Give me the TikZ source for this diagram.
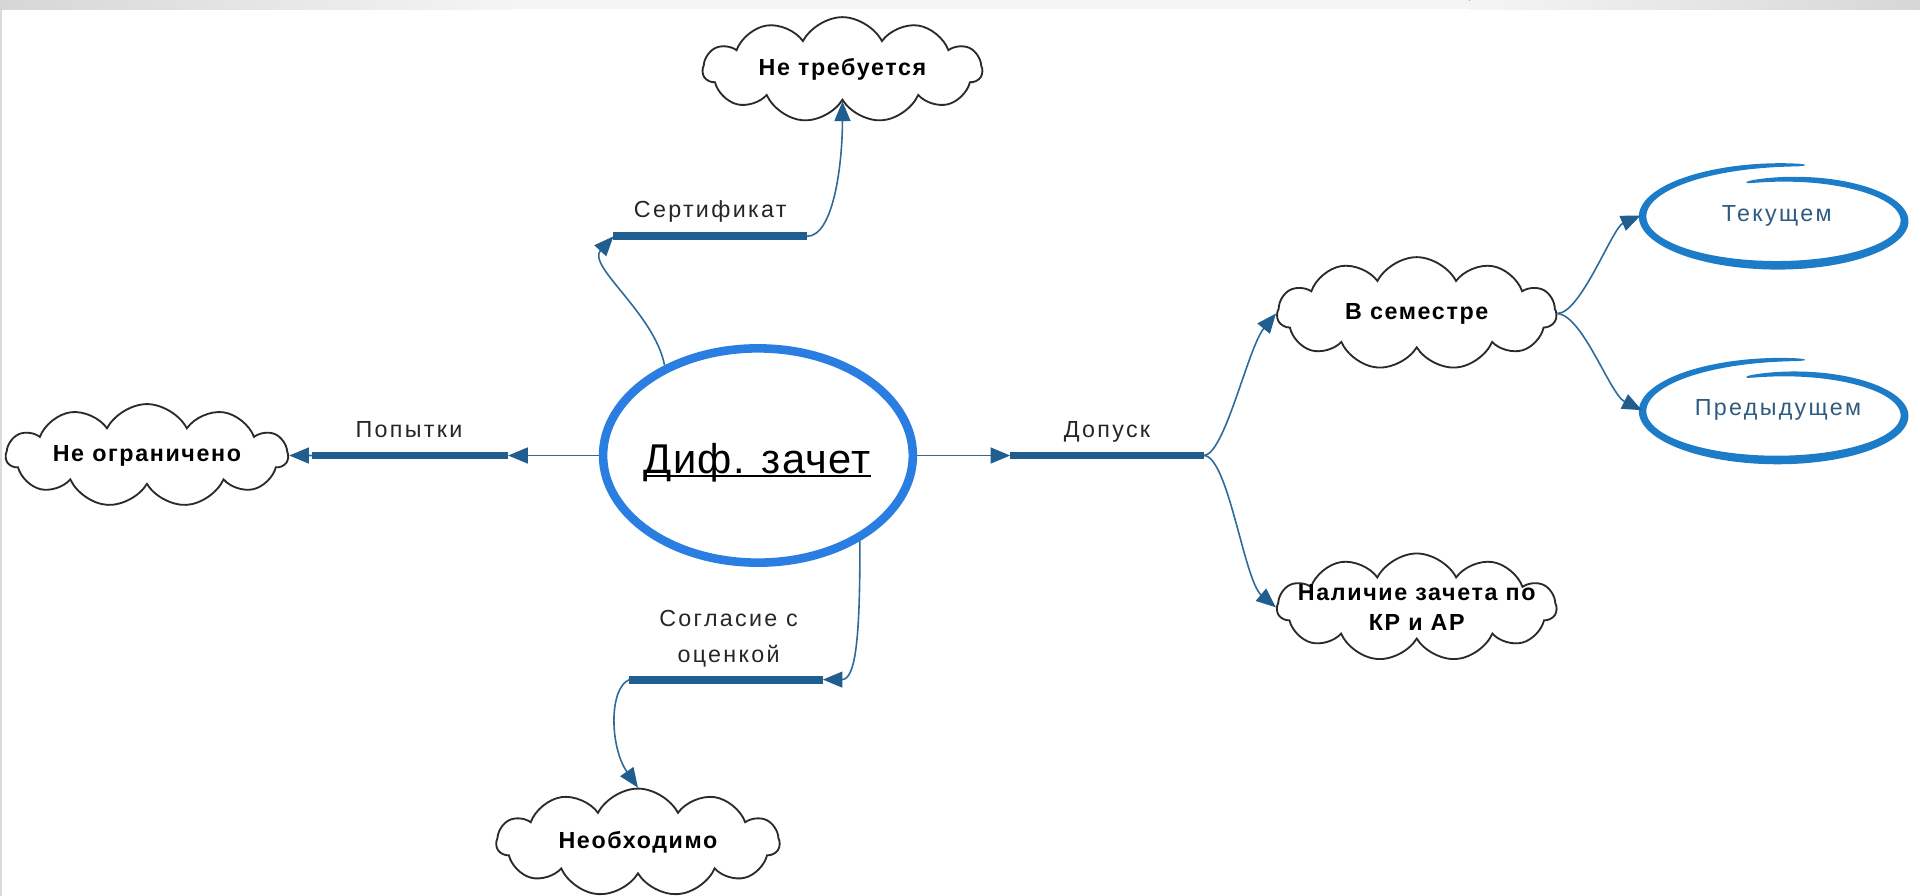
\documentclass[tikz,border=0pt]{standalone}
\usepackage{fontspec}
\setmainfont{Liberation Sans}
\newfontfamily\lblfont[LetterSpace=10]{Liberation Sans}
\newfontfamily\cldfont[LetterSpace=7]{Liberation Sans}
\newfontfamily\ctrfont[LetterSpace=3]{Liberation Sans}
\usetikzlibrary{shapes.geometric, shapes.symbols, arrows.meta}

\definecolor{mainblue}{HTML}{2A7DE1}
\definecolor{barblue}{HTML}{1F5E8E}
\definecolor{connblue}{HTML}{2E6A9A}
\definecolor{handblue}{HTML}{1C7CC8}
\definecolor{handtext}{HTML}{2F5B80}
\definecolor{cloudline}{HTML}{2A2A2A}
\definecolor{lbltext}{HTML}{262626}

\newcommand\handellipse[2]{%
 \fill[handblue] plot[domain=0:1,samples=180,smooth,variable=\t]
   ({#1+(110.7*(0.8+0.32*\t)+0.5*(0.8+6.2*(sin(180*\t))^0.4))*cos(110-388*\t)},
    {#2-(39.4*(0.8+0.32*\t)+0.5*(0.8+6.2*(sin(180*\t))^0.4))*sin(110-388*\t)})
   -- plot[domain=1:0,samples=180,smooth,variable=\t]
   ({#1+(110.7*(0.8+0.32*\t)-0.5*(0.8+6.2*(sin(180*\t))^0.4))*cos(110-388*\t)},
    {#2-(39.4*(0.8+0.32*\t)-0.5*(0.8+6.2*(sin(180*\t))^0.4))*sin(110-388*\t)})
   -- cycle;}

\begin{document}
\begin{tikzpicture}[x=1bp, y=-1bp,
 mainell/.style={ellipse, draw=mainblue, line width=7bp, minimum width=253bp, minimum height=175bp, inner sep=0pt},
 ctrtext/.style={font=\ctrfont\fontsize{34bp}{40bp}\selectfont, text=black, inner sep=0pt, anchor=base},
 barline/.style={draw=barblue, line width=6.5bp},
 conn/.style={draw=connblue, line width=1.3bp, -{Triangle[length=16bp,width=13bp,color=barblue]}},
 lbl/.style={font=\lblfont\fontsize{19bp}{29bp}\selectfont, text=lbltext, inner sep=0pt, anchor=base},
 cloudbox/.style={cloud, cloud puffs=11, cloud puff arc=125, cloud ignores aspect, draw=cloudline, line width=1.5bp, inner sep=0pt, fill=white},
 cldtxt/.style={font=\cldfont\bfseries\fontsize{19bp}{25bp}\selectfont, text=black, inner sep=0pt, align=center},
 handtxt/.style={ellipse, minimum width=222bp, minimum height=80bp, inner sep=0pt, font=\lblfont\fontsize{19bp}{23bp}\selectfont, text=handtext}]

\useasboundingbox (0,0) rectangle (1568,731.7);
\fill[white] (0,0) rectangle (1568,731.7);
% top band
\fill[left color=black!16, right color=black!4] (0,0) rectangle (420,7.6);
\fill[black!4] (420,0) rectangle (1200,7.6);
\fill[left color=black!4, right color=black!16] (1200,0) rectangle (1568,7.6);
\fill[black!14] (0,7.6) rectangle (1.3,731.7);

% central node
\node[mainell] (c) at (619,372) {};
\node[ctrtext] (ct) at (618.5,386.5) {Диф. зачет};
\draw[line width=1.6bp] ([yshift=-2.5bp]ct.base west) -- ([yshift=-2.5bp]ct.base east);

% bars
\coordinate (pl1) at (255,372); \coordinate (pl2) at (415,372);
\coordinate (ps1) at (501,193); \coordinate (ps2) at (659,193);
\coordinate (pr1) at (825,372); \coordinate (pr2) at (983,372);
\coordinate (pb1) at (514,555); \coordinate (pb2) at (672,555);
\draw[barline] (pl1) -- (pl2);
\draw[barline] (ps1) -- (ps2);
\draw[barline] (pr1) -- (pr2);
\draw[barline] (pb1) -- (pb2);

% labels
\node[lbl] (lp) at (334,357) {Попытки};
\node[lbl] (ls) at (580,178) {Сертификат};
\node[lbl] (ld) at (904,357) {Допуск};
\node[lbl, align=center] (lsog) at (595,541) {Согласие с\\оценкой};

% clouds
\node[cloudbox, minimum width=230bp, minimum height=84bp,
      label={[cldtxt]center:Не ограничено}] (n1) at (120,372) {};
\node[cloudbox, minimum width=228bp, minimum height=86bp,
      label={[cldtxt]center:Не требуется}] (nt) at (688,57) {};
\node[cloudbox, minimum width=228bp, minimum height=92bp,
      label={[cldtxt]center:В семестре}] (sem) at (1157,256) {};
\node[cloudbox, minimum width=228bp, minimum height=88bp,
      label={[cldtxt]center:{Наличие зачета по\\КР и АР}}] (nal) at (1157,496) {};
\node[cloudbox, minimum width=231bp, minimum height=88bp,
      label={[cldtxt]center:Необходимо}] (neo) at (521,688) {};

% hand-drawn ellipses
\handellipse{1456.6}{178.6}
\handellipse{1456.6}{337.6}
\node[handtxt] (tek) at (1451,176) {Текущем};
\node[handtxt] (pred) at (1452,335) {Предыдущем};

% connectors
\draw[conn] (c.west) -- (pl2);
\draw[conn] (pl1) -- (n1.east);
\draw[conn] (c.136) .. controls +(-8,-42) and +(-22,24) .. (ps1);
\draw[conn] (ps2) .. controls +(22,0) and +(0,50) .. (nt.south);
\draw[conn] (c.east) -- (pr1);
\draw[conn] (pr2) .. controls +(17,0) and +(-23,28) .. (sem.west);
\draw[conn] (pr2) .. controls +(20,0) and +(-26,-22) .. (nal.west);
\draw[conn] (sem.east) .. controls +(19,0) and +(-23,10) .. (tek.west);
\draw[conn] (sem.east) .. controls +(21,2) and +(-26,-13) .. (pred.west);
\draw[conn] (c.-40) .. controls +(0,70) and +(28,0) .. (pb2);
\draw[conn] (pb1) .. controls +(-17,7) and +(-23,-33) .. (neo.north);
\end{tikzpicture}
\end{document}
